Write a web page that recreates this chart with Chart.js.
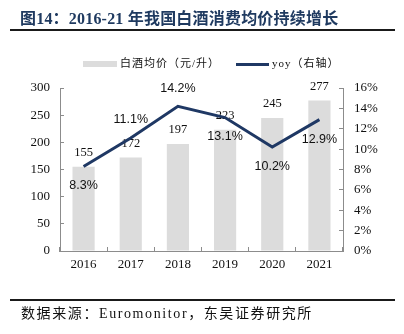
<!DOCTYPE html>
<html>
<head>
<meta charset="utf-8">
<script src="https://cdn.jsdelivr.net/npm/chart.js@4.4.1/dist/chart.umd.min.js"></script>
<style>
  html, body { margin: 0; padding: 0; background: #fff; }
  #wrap { position: relative; width: 404px; height: 334px; overflow: hidden; }
  #chart { position: absolute; left: 0; top: 0; }
  .title {
    position: absolute; left: 20px; top: 5px;
    font: bold 16px "Liberation Serif", "Noto Sans CJK SC", serif;
    letter-spacing: 0.2px;
    color: #1f3a60; white-space: nowrap;
  }
  .rule { position: absolute; left: 10px; width: 385px; height: 2px; background: #1a1a1a; }
  .source {
    position: absolute; left: 21px; top: 302px;
    font: 14px "Liberation Serif", "Noto Sans CJK SC", serif;
    letter-spacing: 1.6px; color: #111; white-space: nowrap;
  }
  .legend {
    position: absolute; top: 55px; height: 16px;
    font: 11px "Liberation Serif", "Noto Sans CJK SC", serif; color: #111;
    letter-spacing: 1px; white-space: nowrap; line-height: 16px;
  }
  .legend i { display: inline-block; vertical-align: middle; margin-right: 3px; }
</style>
</head>
<body>
<div id="wrap">
  <canvas id="chart" width="404" height="334"></canvas>
  <div class="title">图14：2016-21 年我国白酒消费均价持续增长</div>
  <div class="rule" style="top:29px"></div>
  <div class="legend" style="left:83px"><i style="width:34px;height:6px;background:#dcdcdc"></i>白酒均价（元/升）</div>
  <div class="legend" style="left:236px"><i style="width:33px;height:3px;background:#1f3864"></i>yoy（右轴）</div>
  <div class="rule" style="top:299px"></div>
  <div class="source">数据来源：Euromonitor，东吴证券研究所</div>
</div>
<script>
  const years = ["2016", "2017", "2018", "2019", "2020", "2021"];
  const avgPrice = [155, 172, 197, 223, 245, 277];
  const yoy = [8.3, 11.1, 14.2, 13.1, 10.2, 12.9];
  // which side of the line each yoy label sits on
  const yoyLabelSide = ["below", "above", "above", "below", "below", "below"];

  const navy = "#1f3864";
  const axisGray = "#8c8c8c";
  const serif = "'Liberation Serif', serif";

  // value labels: bar labels go under the line, yoy labels on top of everything
  const valueLabels = {
    id: 'valueLabels',
    afterDatasetDraw(chart, args) {
      if (args.index !== 0) return;
      const ctx = chart.ctx;
      ctx.save();
      ctx.font = "12.5px " + serif;
      ctx.fillStyle = "#111";
      ctx.textAlign = "center";
      ctx.textBaseline = "middle";
      args.meta.data.forEach((el, i) => {
        ctx.fillText(String(avgPrice[i]), el.x, el.y - 14);
      });
      ctx.restore();
    },
    afterDatasetsDraw(chart) {
      const ctx = chart.ctx;
      const meta = chart.getDatasetMeta(1);
      ctx.save();
      ctx.font = "12.5px 'Liberation Sans', Arial, sans-serif";
      ctx.fillStyle = "#111";
      ctx.textAlign = "center";
      ctx.textBaseline = "middle";
      meta.data.forEach((pt, i) => {
        const dy = yoyLabelSide[i] === "above" ? -18 : 19.5;
        ctx.fillText(yoy[i].toFixed(1) + "%", pt.x, pt.y + dy);
      });
      ctx.restore();
    }
  };

  const ctx = document.getElementById('chart').getContext('2d');

  new Chart(ctx, {
    type: 'bar',
    data: {
      labels: years,
      datasets: [{
        type: 'bar',
        label: '白酒均价（元/升）',
        data: avgPrice,
        backgroundColor: '#dcdcdc',
        yAxisID: 'y',
        categoryPercentage: 1,
        barPercentage: 0.47,
        order: 1,
      }, {
        type: 'line',
        label: 'yoy（右轴）',
        data: yoy,
        borderColor: navy,
        borderWidth: 3,
        pointRadius: 0,
        tension: 0,
        yAxisID: 'y1',
        order: 0,
      }]
    },
    options: {
      responsive: false,
      animation: false,
      events: [],
      layout: { padding: { top: 88, left: 0, right: 0, bottom: 0 } },
      plugins: {
        legend: { display: false },
        tooltip: { enabled: false },
      },
      scales: {
        x: {
          afterFit(scale) { scale.height = 83; },
          border: { display: true, color: axisGray, width: 1 },
          grid: { display: true, drawOnChartArea: false, tickLength: -4, color: axisGray },
          ticks: { color: '#111', padding: 10, font: { family: serif, size: 13 } },
        },
        y: {
          position: 'left',
          min: 0,
          max: 300,
          afterFit(scale) { scale.width = 60; },
          border: { display: true, color: axisGray, width: 1 },
          grid: { display: true, drawOnChartArea: false, tickLength: -4, color: axisGray },
          ticks: { stepSize: 50, color: '#111', padding: 14, font: { family: serif, size: 13 } },
        },
        y1: {
          position: 'right',
          min: 0,
          max: 16,
          afterFit(scale) { scale.width = 61; },
          border: { display: true, color: axisGray, width: 1 },
          grid: { display: true, drawOnChartArea: false, tickLength: -4, color: axisGray },
          ticks: {
            stepSize: 2,
            color: '#111',
            padding: 15,
            font: { family: serif, size: 13 },
            callback: (v) => v + '%',
          },
        }
      }
    },
    plugins: [valueLabels]
  });
</script>
</body>
</html>
